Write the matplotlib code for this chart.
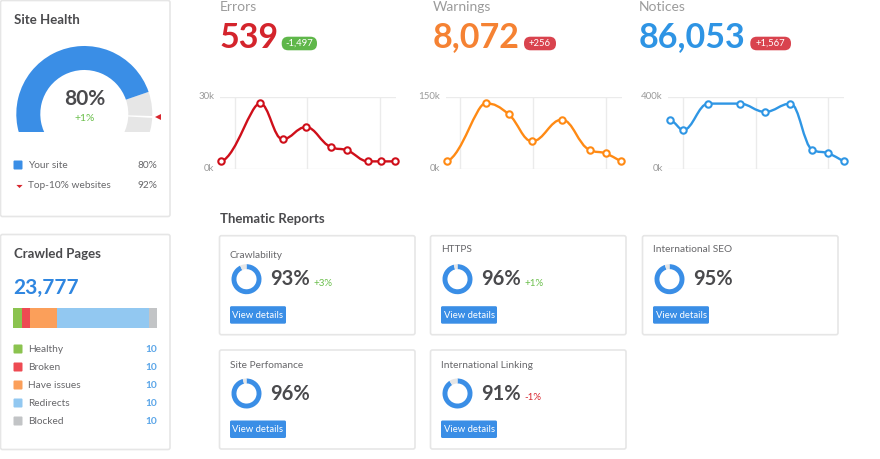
import numpy as np
import matplotlib
matplotlib.use('Agg')
import matplotlib.pyplot as plt
from matplotlib.patches import FancyBboxPatch, PathPatch, Wedge
from matplotlib.path import Path
from matplotlib.transforms import ScaledTranslation

W, H = 880, 459

# line charts, x is measured in grid columns, y in thousands
error_x = [-0.18, 0.35, 0.66, 0.98, 1.32, 1.55, 1.84, 2.02, 2.21]
error_y = [3.3, 27.5, 12.5, 17.6, 9.4, 7.9, 3.3, 3.3, 3.3]
warning_x = [-0.18, 0.35, 0.67, 0.99, 1.40, 1.78, 2.0, 2.21]
warning_y = [16.7, 137.5, 114.6, 58.3, 103.5, 41, 33.3, 16.7]
notice_x = [-0.18, 0.0, 0.35, 0.78, 1.13, 1.48, 1.78, 2.0, 2.21]
notice_y = [274, 217, 365, 365, 319, 365, 109, 89, 44]

# site health
site_score = 80
top_score = 92
site_delta = '+1%'

# crawled pages
crawl_total = '23,777'
crawl_names = ['Healthy', 'Broken', 'Have issues', 'Redirects', 'Blocked']
crawl_counts = ['10', '10', '10', '10', '10']
crawl_shares = [6, 5.5, 19, 63.5, 6]

# thematic reports
report_names = ['Crawlability', 'HTTPS', 'International SEO', 'Site Perfomance', 'International Linking']
report_scores = [93, 96, 95, 96, 91]
report_deltas = ['+3%', '+1%', '', '', '-1%']

DARK = '#4a4a4d'
TEXT = '#67676a'
GREY = '#9b9b9b'
EDGE = '#e6e6e6'
BLUE = '#3a8ee6'
GREEN = '#6abf4b'
RED = '#d8262e'

plt.rcParams['font.family'] = ['Lato', 'DejaVu Sans']
fig = plt.figure(figsize=(W / 100, H / 100), dpi=100)


def px_axes(x0, y0, x1, y1):
    return fig.add_axes([x0 / W, 1 - y1 / H, (x1 - x0) / W, (y1 - y0) / H])


root = px_axes(0, 0, W, H)
root.set_xlim(0, W)
root.set_ylim(H, 0)
root.axis('off')


def label(x, y, s, size=7.3, color=TEXT, weight='normal', ha='left'):
    root.text(x, y, s, fontsize=size, color=color, fontweight=weight, ha=ha, va='center')


def box(x0, y0, x1, y1, face='white', edge=EDGE, lw=1.2, rad=2):
    root.add_patch(FancyBboxPatch((x0 + rad, y0 + rad), x1 - x0 - 2 * rad, y1 - y0 - 2 * rad,
                                  boxstyle='round,pad=%s,rounding_size=%s' % (rad, rad),
                                  fc=face, ec=edge, lw=lw))


def spline_path(xs, ys):
    # bezier through the points, control points clamped so the peaks stay flat
    n = len(xs)
    left = [(xs[0], ys[0])] * n
    right = [(xs[-1], ys[-1])] * n
    for i in range(1, n - 1):
        lx = (1.5 * xs[i] + xs[i - 1]) / 2.5
        ly = (1.5 * ys[i] + ys[i - 1]) / 2.5
        rx = (1.5 * xs[i] + xs[i + 1]) / 2.5
        ry = (1.5 * ys[i] + ys[i + 1]) / 2.5
        fix = (ry - ly) * (rx - xs[i]) / (rx - lx) + ys[i] - ry
        ly += fix
        ry += fix
        if ly > max(ys[i - 1], ys[i]):
            ly = max(ys[i - 1], ys[i])
            ry = 2 * ys[i] - ly
        elif ly < min(ys[i - 1], ys[i]):
            ly = min(ys[i - 1], ys[i])
            ry = 2 * ys[i] - ly
        if ry > max(ys[i + 1], ys[i]):
            ry = max(ys[i + 1], ys[i])
            ly = 2 * ys[i] - ry
        elif ry < min(ys[i + 1], ys[i]):
            ry = min(ys[i + 1], ys[i])
            ly = 2 * ys[i] - ry
        left[i] = (lx, ly)
        right[i] = (rx, ry)
    # first stretch starts slowly and climbs late
    dx, dy = xs[1] - xs[0], ys[1] - ys[0]
    right[0] = (xs[0] + 0.4 * dx, ys[0] + 0.1 * dy)
    left[1] = (xs[1] - 0.25 * dx, left[1][1])
    left[-1] = (xs[-1], ys[-1])
    verts = [(xs[0], ys[0])]
    codes = [Path.MOVETO]
    for i in range(1, n):
        verts += [right[i - 1], left[i], (xs[i], ys[i])]
        codes += [Path.CURVE4] * 3
    return Path(verts, codes)


def line_chart(x0, xs, ys, top, color):
    ax = px_axes(x0, 97.3, x0 + 176, 169.3)
    ax.add_patch(PathPatch(spline_path(xs, ys), fc='none', ec=color, lw=1.7, clip_on=False, zorder=3))
    ax.plot(xs, ys, 'o', ms=4.6, mfc='white', mec=color, mew=1.5, clip_on=False, zorder=4)
    ax.set_xlim(-0.2, 2.22)
    ax.set_ylim(0, top)
    ax.set_xticks([0, 1, 2])
    ax.set_xticklabels([])
    ax.set_yticks([0, top])
    ax.set_yticklabels(['0k', '%dk' % top])
    ax.tick_params(length=0, labelsize=7, labelcolor=GREY, pad=4)
    for t in ax.get_yticklabels():
        t.set_transform(t.get_transform() + ScaledTranslation(0, 2 / 100, fig.dpi_scale_trans))
    ax.grid(color='#ebebeb', lw=1)
    ax.set_axisbelow(True)
    for s in ax.spines.values():
        s.set_visible(False)


def badge(x0, x1, s, color):
    box(x0, 36.7, x1, 50.3, face=color, edge=color, lw=0, rad=6.5)
    label((x0 + x1) / 2, 43.5, s, size=6.8, color='white', ha='center')


# top row
label(219.5, 7, 'Errors', size=10, color=GREY)
label(219.5, 37.5, '539', size=24.5, color='#d4242c', weight='bold')
badge(281.7, 317, '-1,497', '#5fb74a')
line_chart(220, error_x, error_y, 30, '#cf0f1a')

label(433, 7, 'Warnings', size=10, color=GREY)
label(433, 37.5, '8,072', size=24.5, color='#f58233', weight='bold')
badge(524, 556, '+256', '#d9434e')
line_chart(445.5, warning_x, warning_y, 150, '#ff8a14')

label(638.5, 7, 'Notices', size=10, color=GREY)
label(638.5, 37.5, '86,053', size=24.5, color='#2e94e4', weight='bold')
badge(750.3, 791, '+1,567', '#d9434e')
line_chart(668.3, notice_x, notice_y, 400, '#2f96e4')

# site health card
box(0.5, 0.5, 170, 216.5)
label(13.5, 19.5, 'Site Health', size=9.5, color=DARK, weight='bold')


def gauge_angle(v):
    return np.interp(v, [0, 80, 92, 100], [197, 19, -2.5, -15])


gauge = px_axes(84.3 - 75, 44, 84.3 + 76, 131.7)
gauge.set_xlim(-75, 76)
gauge.set_ylim(-17.7, 70)
gauge.axis('off')
gauge.add_patch(Wedge((0, 0), 68, -35, gauge_angle(site_score), width=24, fc='#e6e6e6', ec='none'))
gauge.add_patch(Wedge((0, 0), 68, gauge_angle(site_score), 215, width=24, fc=BLUE, ec='none'))
a = gauge_angle(top_score)
gauge.add_patch(Wedge((0, 0), 69, a - 0.8, a + 0.8, width=26, fc='white', ec='none'))
gauge.plot([77.2 * np.cos(np.radians(a))], [77.2 * np.sin(np.radians(a))], '<', ms=8, color=RED, mew=0)
label(85, 99, '%d%%' % site_score, size=15, color=DARK, weight='bold', ha='center')
label(84.5, 118.5, site_delta, size=7.5, color=GREEN, ha='center')

box(13.5, 160.5, 22.5, 169.5, face=BLUE, edge=BLUE, lw=0, rad=1)
label(28, 165, 'Your site')
label(157, 165, '%d%%' % site_score, ha='right')
root.plot([18.5], [185.7], marker=[(-1, 0.5), (1, 0.5), (0, -0.5)], ms=4.5, color=RED, mew=0)
label(28, 185.5, 'Top-10% websites')
label(157, 185.5, '%d%%' % top_score, ha='right')

# crawled pages card
box(0.5, 234.5, 170, 449.5)
label(13.5, 253.5, 'Crawled Pages', size=9.5, color=DARK, weight='bold')
label(13.5, 287.5, crawl_total, size=15, color='#2f86e0', weight='bold')

crawl_colors = ['#8bc34f', '#ee4a52', '#fb9f5a', '#92c8f1', '#c2c4c6']
bar = px_axes(13.3, 307.7, 157.3, 328.3)
left = 0
for share, c in zip(crawl_shares, crawl_colors):
    bar.barh(0, share, left=left, height=1, color=c)
    left += share
bar.set_xlim(0, 100)
bar.set_ylim(-0.5, 0.5)
bar.axis('off')

for i, name in enumerate(crawl_names):
    y = 349 + 18 * i
    box(13.5, y - 4.5, 22.5, y + 4.5, face=crawl_colors[i], edge=crawl_colors[i], lw=0, rad=1)
    label(28.5, y, name)
    label(157, y, crawl_counts[i], color='#5aa5e8', weight='bold', ha='right')

# thematic reports
label(219.5, 219, 'Thematic Reports', size=9.5, color=DARK, weight='bold')
card_x = [219.5, 430.5, 642.5, 219.5, 430.5]
card_y = [235.7, 235.7, 235.7, 350, 350]
title_y = [255, 250, 250, 365, 365]
for name, score, delta, x, y, ty in zip(report_names, report_scores, report_deltas, card_x, card_y, title_y):
    box(x, y, x + 195.5, y + 99)
    label(x + 10.5, ty, name)
    donut = px_axes(x + 12, y + 28.5, x + 42, y + 58.5)
    donut.pie([score, 100 - score], colors=[BLUE, '#e6e6e6'], startangle=90, counterclock=False,
              radius=1, wedgeprops={'width': 0.33})
    donut.set_xlim(-1, 1)
    donut.set_ylim(-1, 1)
    label(x + 50.5, y + 43.5, '%d%%' % score, size=14.5, color=DARK, weight='bold')
    if delta:
        label(x + 93.5, y + 47.5, delta, size=7, color=GREEN if delta[0] == '+' else RED)
    box(x + 10.5, y + 70.5, x + 66.5, y + 88, face=BLUE, edge=BLUE, lw=0, rad=1.5)
    label(x + 38.5, y + 79.3, 'View details', size=6.8, color='white', ha='center')

fig.savefig('out.png', dpi=100)
